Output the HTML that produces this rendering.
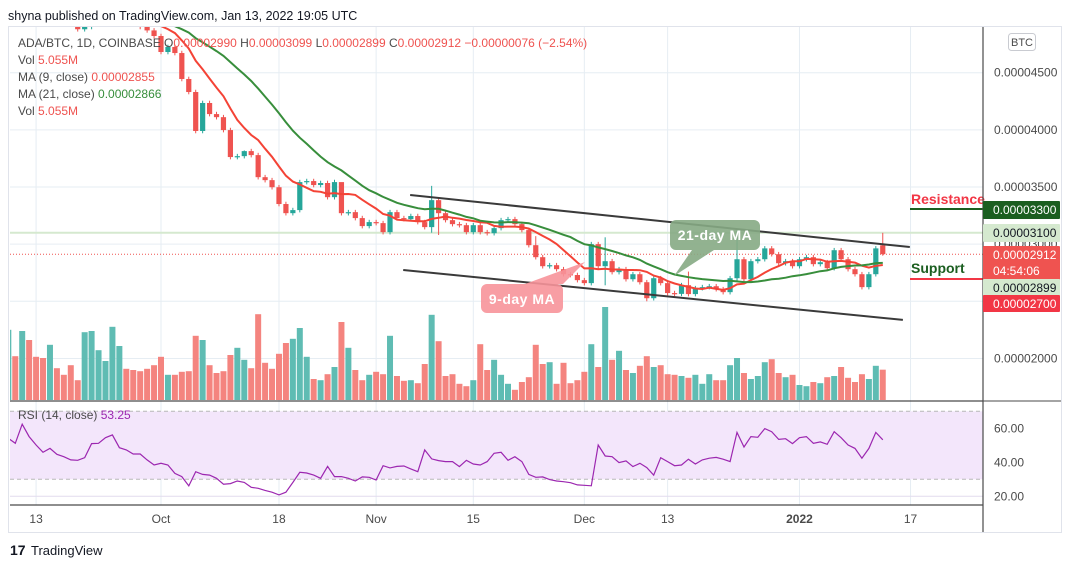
<!DOCTYPE html>
<html><head><meta charset="utf-8">
<style>
html,body{margin:0;padding:0;background:#fff;width:1071px;height:568px;overflow:hidden}
svg{display:block;font-family:"Liberation Sans",sans-serif}
</style></head>
<body>
<svg id="c" width="1071" height="568" viewBox="0 0 1071 568">
<text x="8" y="20" font-size="12.5" fill="#131722">shyna published on TradingView.com, Jan 13, 2022 19:05 UTC</text>
<rect x="8.5" y="26.5" width="1053" height="506" fill="#fff" stroke="#e0e3eb"/>
<g id="grid"></g>
<g id="rsiBg"></g>
<defs><clipPath id="mainClip"><rect x="10" y="27" width="973" height="373"/></clipPath><clipPath id="rsiClip"><rect x="10" y="402" width="973" height="102"/></clipPath></defs>
<g id="vol" clip-path="url(#mainClip)"></g>
<g id="lines" clip-path="url(#mainClip)"></g>
<g id="candles" clip-path="url(#mainClip)"></g>
<g id="ma" clip-path="url(#mainClip)"></g>
<g id="rsi" clip-path="url(#rsiClip)"></g>
<g id="annot"></g>
<g id="axes"></g>
<g font-size="12">
<text x="18" y="47" fill="#4a4a4a">ADA/BTC, 1D, COINBASE <tspan fill="#4a4a4a">O</tspan><tspan fill="#ef5350">0.00002990</tspan> <tspan fill="#4a4a4a">H</tspan><tspan fill="#ef5350">0.00003099</tspan> <tspan fill="#4a4a4a">L</tspan><tspan fill="#ef5350">0.00002899</tspan> <tspan fill="#4a4a4a">C</tspan><tspan fill="#ef5350">0.00002912 −0.00000076 (−2.54%)</tspan></text>
<text x="18" y="64" fill="#4a4a4a">Vol <tspan fill="#ef5350">5.055M</tspan></text>
<text x="18" y="81" fill="#4a4a4a">MA (9, close) <tspan fill="#ef5350">0.00002855</tspan></text>
<text x="18" y="98" fill="#4a4a4a">MA (21, close) <tspan fill="#388e3c">0.00002866</tspan></text>
<text x="18" y="115" fill="#4a4a4a">Vol <tspan fill="#ef5350">5.055M</tspan></text>
<text x="18" y="419" fill="#4a4a4a">RSI (14, close) <tspan fill="#9c27b0">53.25</tspan></text>
</g>
<g><rect x="1008.5" y="33.5" width="27" height="17" rx="3" fill="#fff" stroke="#c9cbd1"/><text x="1022" y="46" font-size="11" text-anchor="middle" fill="#4a4a4a">BTC</text></g>
<g><text x="10" y="555" font-size="14" font-weight="bold" fill="#131722">17</text><text x="31" y="555" font-size="13" fill="#131722">TradingView</text></g>
</svg>
<script>
const closes=[5150,5100,5180,5050,5000,4960,5020,4980,4950,4920,4880,4900,4930,4940,4960,4990,5020,4980,4950,4900,4870,4821,
4681,4725,4672,4445,4331,3990,4235,4138,4111,3998,3762,3770,3814,3779,3586,3560,3498,3351,3271,3298,3543,3552,3517,
3535,3411,3543,3271,3280,3228,3158,3193,3184,3105,3280,3228,3219,3246,3193,3149,3385,3271,3210,3175,3166,3105,3166,3105,3096,3140,3210,3219,3175,3123,2991,2886,2807,2816,2781,2737,2730,2685,2659,3000,2807,
2851,2755,2781,2693,2737,2667,2527,2702,2659,2572,2565,2641,2563,2615,2624,2632,2606,2580,2702,2868,2693,2851,2868,2963,2912,2833,2851,2807,2868,2886,2825,2842,2790,2947,2868,2781,2737,2624,2737,2963,2912];
const firstOpen=5100;
const lastOpen=2990;
const highOverride={61:3510,86:3060,105:3120,34:3820,126:3099,48:3530,76:3070,98:2760};
const lowOverride={126:2899,61:3100,86:2640,92:2500,62:3080};
const volumes=[11.7,7.3,11.5,10,7.2,7,9.2,5.3,4.2,5.8,3.3,11.3,11.5,8.3,6.5,12.2,9,5.2,5,4.8,5.2,5.8,7.2,4.2,4.2,4.7,4.8,10.7,10,5.8,4.5,4.8,7.5,8.7,6.7,5.3,14.3,6.2,5.2,7.7,9.5,10.2,12,7.2,3.5,3.3,4.3,5.5,13,8.7,5,3.3,4.2,4.7,4.3,10.7,4,3.2,3.3,2.8,6,14.2,9.8,4,4.3,
2.7,2.3,3.3,9.3,5,6.7,4.2,2.7,1.7,3,3.8,9.2,6,6.3,2.7,6.2,2.8,3.3,4.7,9.3,5.5,15.5,6.7,8.2,5,4.5,5.7,7.3,5.5,5.8,4.3,4.2,4,3.7,4.2,2.7,4.3,3.3,3.3,5.8,7,4.5,3.5,4,6.3,6.8,4.5,3.8,4.2,2.5,2.3,3,2.8,3.8,4,5.5,3.7,3,4.3,3.5,5.7,5.055];
const rsiValues=[54.1,51.2,62.4,55.1,50.2,45.9,48.2,44.7,43.3,41.4,41.2,42.7,51,51.2,54.5,56.1,48.6,47.3,44.9,44.9,41.4,38.4,39.4,38.4,33.5,31.6,26.1,34.5,32.9,32.5,30.6,27.1,27.5,29,28.2,25.3,24.7,23.5,22.4,20.8,22.4,28.2,34.1,33.7,32.5,30.6,37.6,31.6,31.6,30.6,29,31.4,31.2,29.6,38,36.7,37.6,37.8,36.1,34.5,47.3,42,41,40.4,40.4,37.5,41.2,39,38.4,40.4,45.3,45.9,41.2,43.3,40.4,32.9,31.2,31.4,29.8,29,28.6,28,26.7,26.5,26.2,50.2,43.7,43.3,39.8,40.8,37.5,39.4,36.9,32.5,42.7,40.4,38,38.4,41.8,39,41.4,42.4,42.9,41.8,40.4,57.6,49,55.1,54.7,59.8,58,53.5,53.9,51,54.5,55.1,51.2,52,50.6,58,54.5,50.2,48.2,42.4,48.2,57.6,53.25];
const priceTicks=[4500,4000,3500,3000,2500,2000];
const priceTickLabels=["0.00004500","0.00004000","0.00003500","","",  "0.00002000"];
const rsiTicks=[60,40,20];
const dateTickIdx=[-18,0,17,31,45,61,73,92,108];
const dateTickLabels=["13","Oct","18","Nov","15","Dec","13","2022","17"];
const upperChannel=[[35.9,3430],[107.9,2975]];
const lowerChannel=[[34.9,2774],[106.9,2337]];
const resistance=3307, support=2695, hline=3100, lastPrice=2912;

const NS="http://www.w3.org/2000/svg";
const X0=161, DX=6.94, OFF=22;
function xOf(i){return X0+(i-OFF)*DX;}
function xD(d){return X0+d*DX;}
function yP(v){return 72.7+(4500-v)*0.1143;}
function yV(v){return 400-v*6;}
function yR(r){return 428.3-(r-60)*1.7;}
function mk(tag,attrs,parent){const e=document.createElementNS(NS,tag);for(const k in attrs)e.setAttribute(k,attrs[k]);parent.appendChild(e);return e;}
const G=id=>document.getElementById(id);

// grid
const grid=G('grid');
dateTickIdx.forEach((d,k)=>{const gl=mk('line',{x1:xD(d),x2:xD(d),y1:27,y2:505,stroke:'#e6edf3','stroke-width':1},grid);

});
priceTicks.forEach(v=>{const gl=mk('line',{x1:10,x2:983,y1:yP(v),y2:yP(v),stroke:'#e6edf3'},grid);

});
rsiTicks.forEach(r=>{const gl=mk('line',{x1:10,x2:983,y1:yR(r),y2:yR(r),stroke:'#e2dbee'},grid);

});
// rsi band
const rb=G('rsiBg');
const band=mk('rect',{x:10,y:yR(70),width:973,height:yR(30)-yR(70),fill:'#f3e6fb'},rb);


[70,30].forEach(r=>{const l=mk('line',{x1:10,x2:983,y1:yR(r),y2:yR(r),stroke:'#b8b8b8','stroke-dasharray':'4 3'},rb);

});

// candles + volume
const opens=closes.map((c,i)=>i==0?firstOpen:(i==closes.length-1?lastOpen:closes[i-1]));
const vg=G('vol'), cg=G('candles');
closes.forEach((c,i)=>{
  const o=opens[i], up=c>=o, x=xOf(i);
  const col=up?'#26a69a':'#ef5350';
  const vb=mk('rect',{x:x-3,y:yV(volumes[i]),width:6,height:400-yV(volumes[i]),fill:up?'#5fbcb3':'#f4847f'},vg);
  
  
  const hi=highOverride[i]!==undefined?highOverride[i]:Math.max(o,c)+20;
  const lo=lowOverride[i]!==undefined?lowOverride[i]:Math.min(o,c)-20;
  const w=mk('line',{x1:x,x2:x,y1:yP(hi),y2:yP(lo),stroke:col,'stroke-width':1},cg);
  
  
  const top=yP(Math.max(o,c)), bot=yP(Math.min(o,c));
  const b=mk('rect',{x:x-2.6,y:top,width:5.2,height:Math.max(1.2,bot-top),fill:col},cg);
  
  
});
// MAs
function sma(n){return closes.map((c,i)=>{const s=Math.max(0,i-n+1);let t=0;for(let j=s;j<=i;j++)t+=closes[j];return t/(i-s+1);});}
const mg=G('ma');
[[9,'#f44336','ma9-line',8],[21,'#388e3c','ma21-line',12]].forEach(([n,col,name,st])=>{
  const m=sma(n);let d='';
  m.forEach((v,i)=>{if(i<st)return;d+=(d?'L':'M')+xOf(i).toFixed(1)+','+yP(v).toFixed(1);});
  const p=mk('path',{d:d,fill:'none',stroke:col,'stroke-width':2},mg);
  
  
});
// price lines
const lg=G('lines');
const hl=mk('line',{x1:10,x2:983,y1:yP(hline),y2:yP(hline),stroke:'#d5e9cf','stroke-width':2},lg);


const lp=mk('line',{x1:10,x2:983,y1:yP(lastPrice),y2:yP(lastPrice),stroke:'#ef5350','stroke-dasharray':'1 2'},lg);


// annotations
const an=G('annot');
[[upperChannel,'upper-channel-line'],[lowerChannel,'lower-channel-line']].forEach(([pts,name])=>{
  const l=mk('line',{x1:xD(pts[0][0]),y1:yP(pts[0][1]),x2:xD(pts[1][0]),y2:yP(pts[1][1]),stroke:'#3a3a3a','stroke-width':2},an);
  
  
});
const rl=mk('line',{x1:910,x2:983,y1:yP(resistance),y2:yP(resistance),stroke:'#1b5e20','stroke-width':2},an);


const sl=mk('line',{x1:910,x2:983,y1:yP(support),y2:yP(support),stroke:'#f23645','stroke-width':2},an);


const rt=mk('text',{x:911,y:yP(resistance)-5,'font-size':14,'font-weight':'bold',fill:'#f23645'},an);rt.textContent='Resistance';


const st=mk('text',{x:911,y:yP(support)-6,'font-size':14,'font-weight':'bold',fill:'#1b5e20'},an);st.textContent='Support';


// callouts
const c21=mk('path',{d:'M676,220 h78 a6,6 0 0 1 6,6 v18 a6,6 0 0 1 -6,6 h-40 l-40,26 l18,-26 h-16 a6,6 0 0 1 -6,-6 v-18 a6,6 0 0 1 6,-6z',fill:'#86aa84',opacity:0.9},an);


const t21=mk('text',{x:715,y:240,'font-size':14,'font-weight':'bold',fill:'#fff','text-anchor':'middle','letter-spacing':'0.5'},an);t21.textContent='21-day MA';


const c9=mk('path',{d:'M487,284 h38 l60,-22 l-22,22 h-6 a6,6 0 0 1 6,6 v0 v17 a6,6 0 0 1 -6,6 h-70 a6,6 0 0 1 -6,-6 v-17 a6,6 0 0 1 6,-6z',fill:'#f7949a',opacity:0.9},an);


const t9=mk('text',{x:522,y:304,'font-size':14,'font-weight':'bold',fill:'#fff','text-anchor':'middle','letter-spacing':'0.5'},an);t9.textContent='9-day MA';


// rsi line
let rd='';rsiValues.forEach((r,i)=>{rd+=(i?'L':'M')+xOf(i).toFixed(1)+','+yR(r).toFixed(1);});
const rp=mk('path',{d:rd,fill:'none',stroke:'#9c27b0','stroke-width':1.2},G('rsi'));


// axes
const ax=G('axes');
const sep=[[10,401,983,401],[10,505,983,505],[983,27,983,532]];
sep.forEach((s,k)=>{const l=mk('line',{x1:s[0],y1:s[1],x2:s[2],y2:s[3],stroke:'#4a4a4a','stroke-width':1.2},ax);

});
const sep2=mk('line',{x1:983,y1:401,x2:1061,y2:401,stroke:'#4a4a4a'},ax);


priceTicks.forEach((v,k)=>{if(!priceTickLabels[k])return;const t=mk('text',{x:994,y:yP(v)+4,'font-size':12,fill:'#4a4a4a'},ax);t.textContent=priceTickLabels[k];

});
const gt=mk('text',{x:994,y:yP(3000)+4,'font-size':12,fill:'#4a4a4a'},ax);gt.textContent='0.00003000';


rsiTicks.forEach(r=>{const t=mk('text',{x:994,y:yR(r)+4,'font-size':12,fill:'#4a4a4a'},ax);t.textContent=r.toFixed(2);

});
dateTickIdx.forEach((d,k)=>{const t=mk('text',{x:xD(d),y:523,'font-size':12,fill:'#4a4a4a','text-anchor':'middle','font-weight':dateTickLabels[k]=='2022'?'bold':'normal'},ax);t.textContent=dateTickLabels[k];

});
// price tags
const tags=[[201,18,'#1b5e20','#fff',['0.00003300'],'resistance-tag'],[224,18,'#d5e9cf','#131722',['0.00003100'],'level-3100-tag'],[246,34,'#ef5350','#fff',['0.00002912','04:54:06'],'last-price-tag'],[279,17,'#d5e9cf','#131722',['0.00002899'],'low-price-tag'],[295,17,'#f23645','#fff',['0.00002700'],'support-tag']];
tags.forEach(tg=>{const r=mk('rect',{x:983,y:tg[0],width:77,height:tg[1],fill:tg[2],rx:1},ax);


tg[4].forEach((s,j)=>{const t=mk('text',{x:993,y:tg[0]+13+j*16,'font-size':12,fill:tg[3]},ax);t.textContent=s;

});});
</script>
</body></html>
